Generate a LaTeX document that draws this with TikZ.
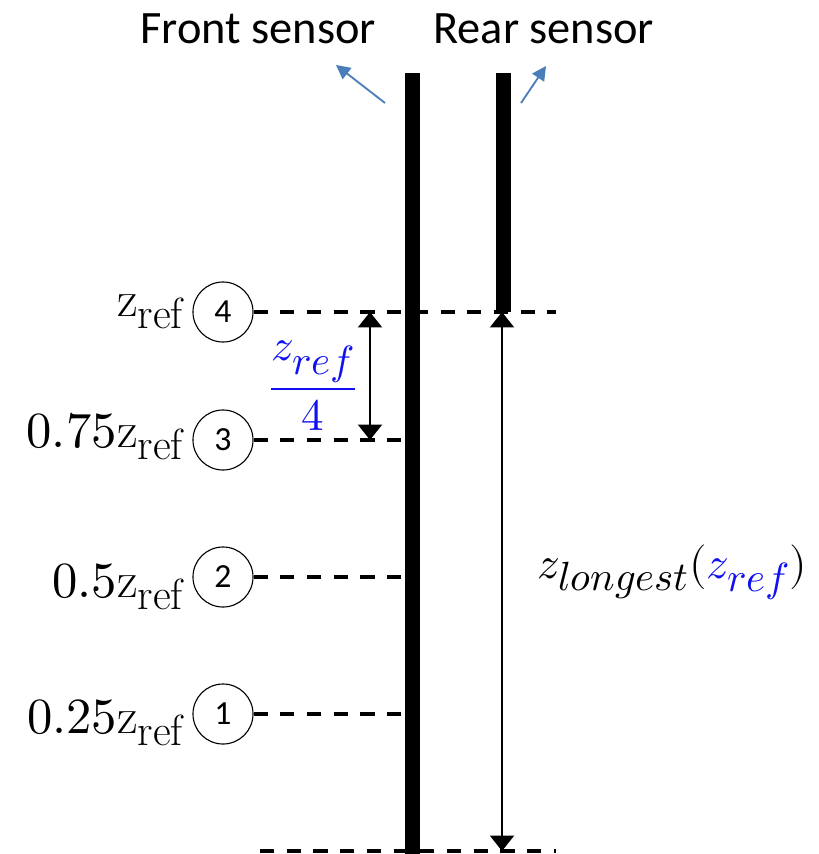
\documentclass[tikz,border=0pt]{standalone}
\usepackage{fontspec}
\usepackage{amsmath}
\usepackage{unicode-math}
\usepackage{xcolor}
\usepackage{tikz}
\usetikzlibrary{positioning, arrows.meta}
\newfontfamily\calib{Carlito}
\definecolor{zblue}{HTML}{1010F0}
\definecolor{ptrblue}{HTML}{4A7EBB}
\newcommand{\bigsub}[1]{\text{\fontsize{29}{34}\selectfont$#1$}}
\newcommand{\tagsub}[1]{\text{\fontsize{31}{36}\selectfont$#1$}}
\newcommand{\zr}{\mathrm{z}_{\tagsub{\mathrm{ref}}}}

\begin{document}
\begin{tikzpicture}[x=0.025cm, y=-0.025cm,
  lvl/.style={draw, circle, line width=0.8pt, minimum size=1.5cm, inner sep=0pt, font=\calib\fontsize{24}{29}\selectfont},
  tag/.style={anchor=base east, inner sep=0pt, font=\fontsize{36}{42}\selectfont},
  sens/.style={anchor=base west, inner sep=0pt, font=\calib\fontsize{33}{40}\selectfont},
  guide/.style={line width=2.2pt, dash pattern=on 10pt off 9pt},
  dim/.style={line width=1.8pt, {Triangle[width=17pt,length=11pt]}-{Triangle[width=17pt,length=11pt]}},
  ptr/.style={line width=1.3pt, draw=ptrblue, -{Triangle[width=10pt,length=10pt]}}]
\useasboundingbox (0,0) rectangle (818,854);
\node[sens] (front) at (140,44) {Front sensor};
\node[sens] (rear) at (433,44) {Rear sensor};
\coordinate (fp0) at (385,103); \coordinate (fp1) at (336,65);
\coordinate (rp0) at (521,103); \coordinate (rp1) at (546,66);
\draw[ptr] (fp0) -- (fp1);
\draw[ptr] (rp0) -- (rp1);
\node[lvl] (c4) at (223,312) {4};
\node[lvl] (c3) at (223,440) {3};
\node[lvl] (c2) at (223,577) {2};
\node[lvl] (c1) at (223,714) {1};
\node[tag] (l4) at (184,316) {$\zr$};
\node[tag] (l3) at (184,447) {$0.75\zr$};
\node[tag] (l2) at (184,597) {$0.5\zr$};
\node[tag] (l1) at (184,733) {$0.25\zr$};
\coordinate (e4) at (556,312); \coordinate (e3) at (405,440);
\coordinate (e2) at (405,577); \coordinate (e1) at (405,714);
\coordinate (b0) at (260,851); \coordinate (b1) at (556,851);
\draw[guide] (c4.east) -- (e4);
\draw[guide] (c3.east) -- (e3);
\draw[guide] (c2.east) -- (e2);
\draw[guide] (c1.east) -- (e1);
\draw[guide] (b0) -- (b1);
\fill (405,73) rectangle (420,854);
\fill (496,73) rectangle (511,312);
\coordinate (qa) at (370,312); \coordinate (qb) at (370,440);
\coordinate (ra) at (502,312); \coordinate (rb) at (502,851);
\draw[dim] (qa) -- (qb);
\draw[dim] (ra) -- (rb);
\node[font=\fontsize{32}{38}\selectfont] (quart) at (313,386) {$\color{zblue}\dfrac{z_{\bigsub{ref}}}{4}$};
\node[anchor=west, inner sep=0pt, font=\fontsize{32}{38}\selectfont] (zlong) at (537,572) {$z_{\bigsub{longest}}(\textcolor{zblue}{z_{\bigsub{ref}}})$};
\end{tikzpicture}
\end{document}
